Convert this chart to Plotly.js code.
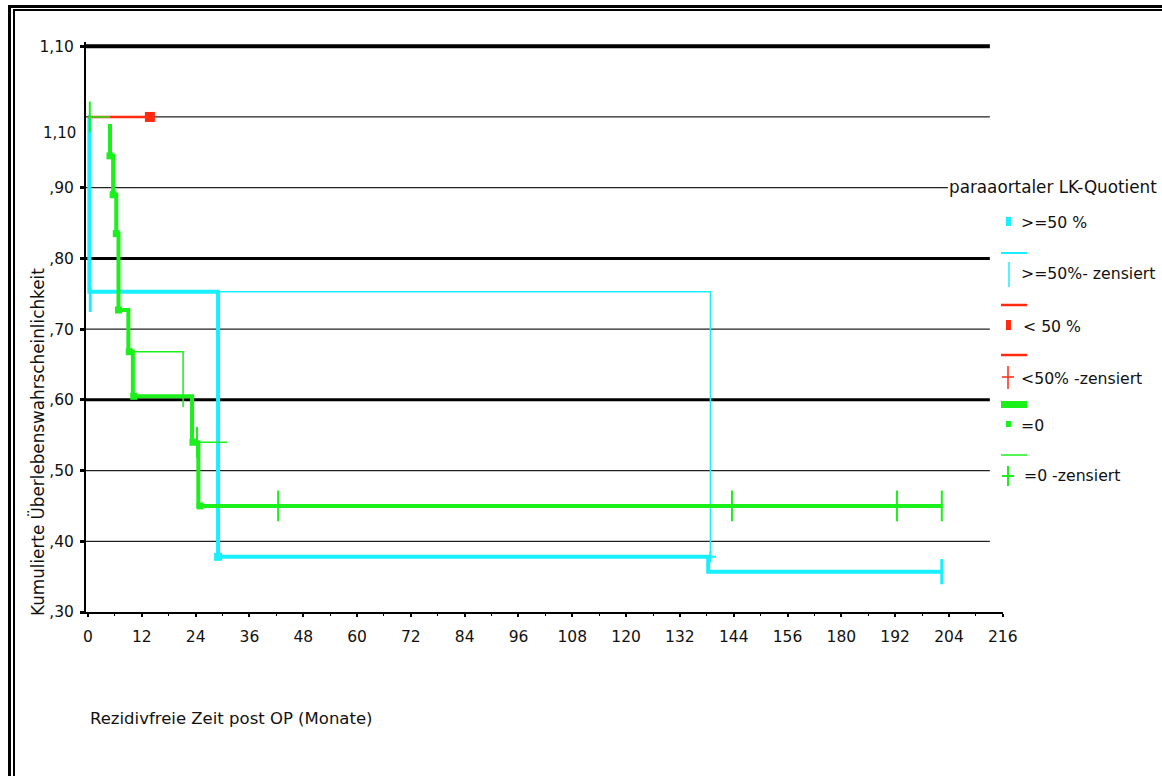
<!DOCTYPE html>
<html><head><meta charset="utf-8">
<script src="https://cdn.plot.ly/plotly-3.0.1.min.js"></script>
<style>
html,body{margin:0;padding:0;background:#fff;overflow:hidden}
#chart{position:absolute;left:0;top:0;width:1162px;height:776px;}
.fr{position:absolute;pointer-events:none;width:1300px;height:1000px}
#frameOuter{left:8px;top:5px;border-left:3px solid #000;border-top:3px solid #000;}
#frameInner{left:13px;top:9px;border-left:2px solid #000;border-top:2px solid #000;}
</style></head><body>
<div id="chart"></div>
<div id="frameOuter" class="fr"></div><div id="frameInner" class="fr"></div>
<script>
// ---- tick labels ----
const xTickLabels = ['0','12','24','36','48','60','72','84','96','108','120','132','144','156','180','192','204','216'];
const yTickValues = [0.3,0.4,0.5,0.6,0.7,0.8,0.9,1.1];
const yTickLabels = [',30',',40',',50',',60',',70',',80',',90','1,10'];

// ---- >=50 % ----
const ge50Time = [0, 0.3, 0.3, 29.0, 29.0, 138.3, 138.3, 190.4];
const ge50Surv = [1.0, 1.0, 0.753, 0.753, 0.378, 0.378, 0.357, 0.357];
const ge50ThinTime = [29.0, 138.8, 138.8];
const ge50ThinSurv = [0.753, 0.753, 0.378];
const ge50EventTime = [29.0];
const ge50EventSurv = [0.378];
const ge50CensTime = [0.5, 190.4];
const ge50CensSurv = [0.742, 0.357];
const ge50SmallCensTime = [138.8];
const ge50SmallCensSurv = [0.378];

// ---- < 50 % ----
const lt50Time = [0, 13.8];
const lt50Surv = [1.0, 1.0];
const lt50EventTime = [13.8];
const lt50EventSurv = [1.0];

// ---- =0 ----
const eq0Time = [4.9, 4.9, 5.6, 5.6, 6.3, 6.3, 6.8, 6.8, 9.0, 9.0, 10.0, 10.0, 23.2, 23.2, 24.6, 24.6, 190.5];
const eq0Surv = [0.99, 0.945, 0.945, 0.89, 0.89, 0.835, 0.835, 0.727, 0.727, 0.668, 0.668, 0.605, 0.605, 0.540, 0.540, 0.450, 0.450];
const eq0ThinTime = [0, 4.9, null, 9.0, 21.2, 21.2, null, 23.9, 31.0];
const eq0ThinSurv = [1.0, 1.0, null, 0.668, 0.668, 0.59, null, 0.540, 0.540];
const eq0EventTime = [4.9, 5.6, 6.3, 6.8, 9.2, 10.2, 23.4, 25.0];
const eq0EventSurv = [0.945, 0.89, 0.835, 0.727, 0.668, 0.605, 0.540, 0.450];
const eq0CensTime = [0.4, 24.3, 42.4, 143.6, 180.4, 190.4];
const eq0CensSurv = [1.0, 0.540, 0.450, 0.450, 0.450, 0.450];

// ---- reference lines ----
const gridValues = [1.1, 1.0, 0.9, 0.8, 0.7, 0.6, 0.5, 0.4];

const CYAN = '#19F0FF', RED = '#FF2A10', GREEN = '#1AF01A';
const FONT = 'DejaVu Sans';

const W = 1162, H = 776, L = 86, R = 159, T = 42, B = 164;
const PW = W - L - R, PH = H - T - B;
const px = x => (x - L) / PW;
const py = y => (H - B - y) / PH;
const tickPos = xTickLabels.map((_, i) => i * 12);

const traces = [
  {x: ge50ThinTime, y: ge50ThinSurv, mode: 'lines', line: {color: CYAN, width: 1.5}},
  {x: ge50Time, y: ge50Surv, mode: 'lines', line: {color: CYAN, width: 4}},
  {x: lt50Time, y: lt50Surv, mode: 'lines', line: {color: RED, width: 2.5}},
  {x: eq0ThinTime, y: eq0ThinSurv, mode: 'lines', line: {color: GREEN, width: 1.5}},
  {x: eq0Time, y: eq0Surv, mode: 'lines', line: {color: GREEN, width: 4}},
  {x: ge50EventTime, y: ge50EventSurv, mode: 'markers', marker: {symbol: 'square', size: 8, color: CYAN}},
  {x: ge50CensTime, y: ge50CensSurv, mode: 'markers', marker: {symbol: 'line-ns', size: 18, line: {color: CYAN, width: 3}}},
  {x: ge50SmallCensTime, y: ge50SmallCensSurv, mode: 'markers', marker: {symbol: 'cross-thin', size: 8, line: {color: CYAN, width: 2}}},
  {x: lt50EventTime, y: lt50EventSurv, mode: 'markers', marker: {symbol: 'square', size: 10, color: RED}},
  {x: eq0EventTime, y: eq0EventSurv, mode: 'markers', marker: {symbol: 'square', size: 7, color: GREEN}},
  {x: eq0CensTime, y: eq0CensSurv, mode: 'markers', marker: {symbol: 'line-ns', size: 22, line: {color: GREEN, width: 2}}}
];
traces.forEach(t => { t.showlegend = false; t.hoverinfo = 'skip'; });

const gridEnd = (990 - 88) / 4.485;
const shapes = gridValues.map(v => {
  const thick = (v === 1.1 || v === 0.8 || v === 0.6);
  return {type: 'line', xref: 'x', yref: 'y', x0: -0.45, x1: v === 0.9 ? (948 - 88) / 4.485 : gridEnd, y0: v, y1: v,
          layer: 'below', line: {color: thick ? '#000' : '#222', width: v === 1.1 ? 4 : (thick ? 3 : 1.3)}};
});
// legend symbols (decoration, in pixels)
function seg(x0, y0, x1, y1, color, width) {
  shapes.push({type: 'line', xref: 'paper', yref: 'paper', x0: px(x0), x1: px(x1), y0: py(y0), y1: py(y1), line: {color, width}});
}
function box(x0, y0, x1, y1, color) {
  shapes.push({type: 'rect', xref: 'paper', yref: 'paper', x0: px(x0), x1: px(x1), y0: py(y0), y1: py(y1), fillcolor: color, line: {width: 0}});
}
box(1006, 217, 1011, 226, CYAN);
seg(1001, 253, 1027, 253, CYAN, 2);
seg(1009, 262, 1009, 287, CYAN, 1.5);
seg(1001, 305, 1027, 305, RED, 2.5);
box(1006, 320, 1011, 330, RED);
seg(1001, 355, 1027, 355, RED, 2.5);
seg(1008, 366, 1008, 389, RED, 1.5);
seg(1002, 377, 1014, 377, RED, 1.5);
box(1001, 401, 1027, 408, GREEN);
box(1006, 421, 1011, 427, GREEN);
seg(1001, 455, 1027, 455, GREEN, 1.5);
seg(1008, 466, 1008, 486, GREEN, 2);
seg(1002, 476, 1014, 476, GREEN, 2);

const ann = (x, y, text, size, opts = {}) => Object.assign({xref: 'paper', yref: 'paper', x: px(x), y: py(y), text, showarrow: false,
  xanchor: 'left', yanchor: 'middle', font: {family: FONT, size: size, color: '#111'}}, opts);
const annotations = [
  ann(947, 187, 'paraaortaler LK-Quotient', 16.8),
  ann(1019, 222, '&gt;=50 %', 15.7),
  ann(1019, 273, '&gt;=50%- zensiert', 15.7),
  ann(1021, 326, '&lt; 50 %', 15.7),
  ann(1019, 378, '&lt;50% -zensiert', 15.7),
  ann(1019, 425, '=0', 15.7),
  ann(1022, 475, '=0 -zensiert', 15.7),
  ann(88, 718, 'Rezidivfreie Zeit post OP (Monate)', 16.5),
  ann(78, 133, '1,10', 15, {xanchor: 'right'}),
  ann(37, 442, 'Kumulierte Überlebenswahrscheinlichkeit', 16.8, {xanchor: 'center', textangle: -90})
];

const layout = {
  width: W, height: H, margin: {l: L, r: R, t: T, b: B, pad: 0},
  paper_bgcolor: 'rgba(0,0,0,0)', plot_bgcolor: 'rgba(0,0,0,0)',
  showlegend: false,
  font: {family: FONT, size: 15, color: '#111'},
  xaxis: {range: [-0.45, 204.05], tickmode: 'array', tickvals: tickPos, ticktext: xTickLabels,
          showgrid: false, zeroline: false, showline: true, linecolor: '#000', linewidth: 2,
          ticks: 'outside', ticklen: 3, tickwidth: 2, tickcolor: '#000', ticklabelstandoff: 6,
          minor: {tickmode: 'array', tickvals: tickPos.slice(0, -1).map(v => v + 6), ticks: 'outside', ticklen: 2, tickwidth: 1, tickcolor: '#000', showgrid: false},
          tickfont: {family: FONT, size: 15.5, color: '#111'}},
  yaxis: {range: [0.3, 1.106], tickmode: 'array', tickvals: yTickValues, ticktext: yTickLabels,
          showgrid: false, zeroline: false, showline: true, linecolor: '#000', linewidth: 2,
          ticks: 'outside', ticklen: 4, tickwidth: 3, tickcolor: '#000', ticklabelstandoff: 3,
          tickfont: {family: FONT, size: 15.5, color: '#111'}},
  shapes, annotations
};
Plotly.newPlot('chart', traces, layout, {staticPlot: true, displayModeBar: false});
</script>
</body></html>
